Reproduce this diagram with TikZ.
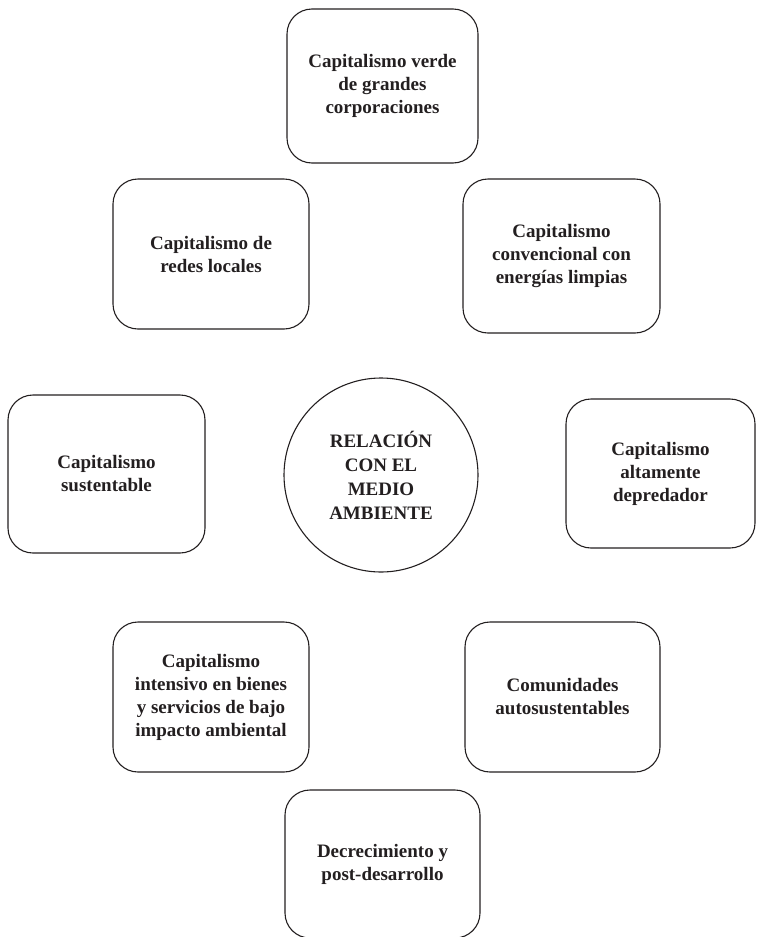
\documentclass[tikz,border=0pt]{standalone}
\usepackage{fontspec}
\setmainfont{Liberation Serif}
\definecolor{ink}{HTML}{231F20}
\begin{document}
\begin{tikzpicture}[x=1pt,y=-1pt,
  box/.style={draw=ink, line width=1.1pt, rounded corners=25pt, shape=rectangle,
    align=center, text=ink, font=\fontsize{19}{23}\selectfont\bfseries, inner sep=0pt},
  hub/.style={draw=ink, line width=1.1pt, shape=circle, minimum size=194pt,
    align=center, text=ink, font=\fontsize{19}{24}\selectfont\bfseries, inner sep=0pt}]
\useasboundingbox (0,0) rectangle (756,937);
\node[box, minimum width=191pt, minimum height=154pt] (verde) at (382.5,86) {Capitalismo verde\\de grandes\\corporaciones};
\node[box, minimum width=196pt, minimum height=150pt] (redes) at (211,254) {Capitalismo de\\redes locales};
\node[box, minimum width=197pt, minimum height=154pt] (conv) at (561.5,256) {Capitalismo\\convencional con\\energías limpias};
\node[box, minimum width=197pt, minimum height=158pt] (sust) at (106.5,474) {Capitalismo\\sustentable};
\node[hub] (centro) at (381,475) {RELACIÓN\\CON EL\\MEDIO\\AMBIENTE};
\node[box, minimum width=189pt, minimum height=149pt] (depr) at (660.5,473.5) {Capitalismo\\altamente\\depredador};
\node[box, minimum width=196pt, minimum height=150pt] (inten) at (211,697) {Capitalismo\\intensivo en bienes\\y servicios de bajo\\impacto ambiental};
\node[box, minimum width=195pt, minimum height=150pt] (comu) at (562.5,697) {Comunidades\\autosustentables};
\node[box, minimum width=195pt, minimum height=148pt] (decre) at (382.5,864) {Decrecimiento y\\post-desarrollo};
\end{tikzpicture}
\end{document}
